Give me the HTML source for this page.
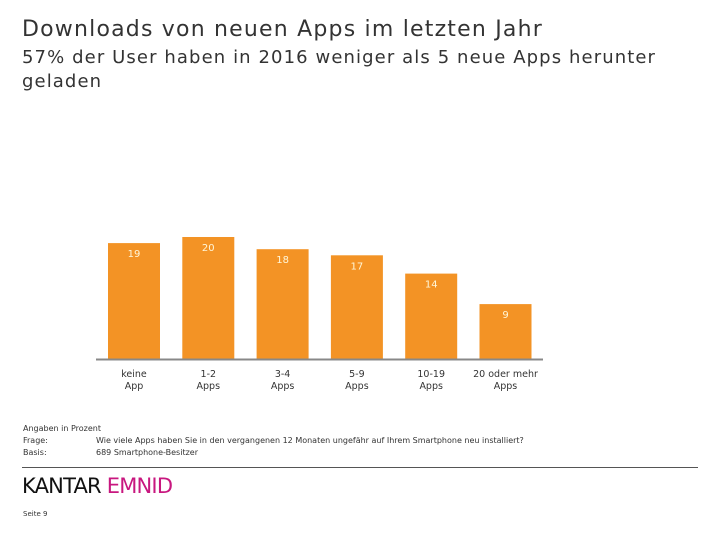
<!DOCTYPE html>
<html><head><meta charset="utf-8"><style>
body{margin:0;width:720px;height:540px;background:#fff;font-family:"DejaVu Sans","Liberation Sans",sans-serif;color:#333;overflow:hidden;position:relative}
.t{position:absolute;white-space:nowrap}
</style></head><body>
<div class="t" style="left:22px;top:17px;font-size:22px;letter-spacing:1.2px;">Downloads von neuen Apps im letzten Jahr</div>
<div class="t" style="left:22px;top:46px;font-size:18px;line-height:24px;letter-spacing:1.1px;">57% der User haben in 2016 weniger als 5 neue Apps herunter<br>geladen</div>
<svg id="c" width="720" height="540" style="position:absolute;left:0;top:0"></svg>
<div class="t" style="left:23px;top:424px;font-size:8px;">Angaben in Prozent</div>
<div class="t" style="left:23px;top:436px;font-size:8px;">Frage:</div>
<div class="t" style="left:96px;top:436px;font-size:8px;">Wie viele Apps haben Sie in den vergangenen 12 Monaten ungefähr auf Ihrem Smartphone neu installiert?</div>
<div class="t" style="left:23px;top:448px;font-size:8px;">Basis:</div>
<div class="t" style="left:96px;top:448px;font-size:8px;">689 Smartphone-Besitzer</div>
<div style="position:absolute;left:22px;top:467px;width:676px;height:1px;background:#555"></div>
<div class="t" style="left:22px;top:474px;font-size:21px;letter-spacing:-0.8px;"><span style="color:#111">KANTAR</span> <span style="color:#c8177f">EMNID</span></div>
<div class="t" style="left:23px;top:510px;font-size:7px;">Seite 9</div>
<script>
const categories=["keine|App","1-2|Apps","3-4|Apps","5-9|Apps","10-19|Apps","20 oder mehr|Apps"];
const values=[19,20,18,17,14,9];
const svg=document.getElementById('c');
const NS='http://www.w3.org/2000/svg';
const base=359, unit=6.1, x0=108, step=74.3, bw=52;
const y=v=>base-v*unit;
const xs=i=>x0+i*step;
values.forEach((v,i)=>{
  const r=document.createElementNS(NS,'rect');
  r.setAttribute('x',xs(i));r.setAttribute('y',y(v));r.setAttribute('width',bw);r.setAttribute('height',base-y(v));r.setAttribute('fill','#f39325');
  
  
  svg.appendChild(r);
  const t=document.createElementNS(NS,'text');
  t.setAttribute('x',xs(i)+bw/2);t.setAttribute('y',y(v)+14);t.setAttribute('text-anchor','middle');t.setAttribute('font-size','10');t.setAttribute('fill','#fff6d8');t.setAttribute('font-family','DejaVu Sans, sans-serif');
  t.textContent=v;
  
  
  svg.appendChild(t);
  categories[i].split('|').forEach((s,j)=>{
    const c=document.createElementNS(NS,'text');
    c.setAttribute('x',xs(i)+bw/2);c.setAttribute('y',377+j*12);c.setAttribute('text-anchor','middle');c.setAttribute('font-size','9.5');c.setAttribute('fill','#333');c.setAttribute('font-family','DejaVu Sans, sans-serif');
    c.textContent=s;
    
    
    svg.appendChild(c);
  });
});
const ax=document.createElementNS(NS,'line');
ax.setAttribute('x1',96);ax.setAttribute('x2',543);ax.setAttribute('y1',base+0.5);ax.setAttribute('y2',base+0.5);ax.setAttribute('stroke','#888');ax.setAttribute('stroke-width','2');


svg.appendChild(ax);
</script>
</body></html>
